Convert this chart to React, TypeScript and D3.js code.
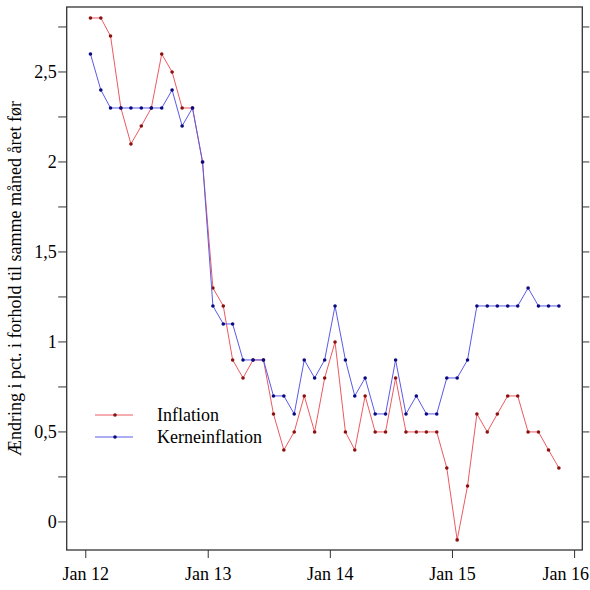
import React, { useEffect, useRef } from 'react';
import * as d3 from 'd3';

// monthly figures, Jan 2012 - Nov 2015
const inflation = [
  2.8, 2.8, 2.7, 2.3, 2.1, 2.2, 2.3, 2.6, 2.5, 2.3, 2.3, 2.0,
  1.3, 1.2, 0.9, 0.8, 0.9, 0.9, 0.6, 0.4, 0.5, 0.7, 0.5, 0.8,
  1.0, 0.5, 0.4, 0.7, 0.5, 0.5, 0.8, 0.5, 0.5, 0.5, 0.5, 0.3,
  -0.1, 0.2, 0.6, 0.5, 0.6, 0.7, 0.7, 0.5, 0.5, 0.4, 0.3,
];

const kerneinflation = [
  2.6, 2.4, 2.3, 2.3, 2.3, 2.3, 2.3, 2.3, 2.4, 2.2, 2.3, 2.0,
  1.2, 1.1, 1.1, 0.9, 0.9, 0.9, 0.7, 0.7, 0.6, 0.9, 0.8, 0.9,
  1.2, 0.9, 0.7, 0.8, 0.6, 0.6, 0.9, 0.6, 0.7, 0.6, 0.6, 0.8,
  0.8, 0.9, 1.2, 1.2, 1.2, 1.2, 1.2, 1.3, 1.2, 1.2, 1.2,
];

const months = inflation.map((_, i) => new Date(2012, i, 15));

const yTicks = [0, 0.25, 0.5, 0.75, 1, 1.25, 1.5, 1.75, 2, 2.25, 2.5, 2.75];
const yLabelTicks = [0, 0.5, 1, 1.5, 2, 2.5];
const xTicks = [2012, 2013, 2014, 2015, 2016].map((y) => new Date(y, 0, 1));

const series = [
  { name: 'Inflation', values: inflation, line: '#ec5a62', dot: '#8b1010' },
  { name: 'Kerneinflation', values: kerneinflation, line: '#5a5ae8', dot: '#0a0a80' },
];

export default function App() {
  const svgRef = useRef<SVGSVGElement>(null);

  useEffect(() => {
    if (!svgRef.current) return;
    const width = 590;
    const height = 590;
    const plot = { left: 66.7, right: 582.3, top: 7, bottom: 550 };
    const font = '"Liberation Serif", "Times New Roman", serif';

    const svg = d3.select(svgRef.current);
    svg.selectAll('*').remove();
    svg.attr('width', width).attr('height', height).attr('viewBox', [0, 0, width, height]);

    const x = d3.scaleTime()
      .domain([new Date(2011, 10, 5), new Date(2016, 0, 24)])
      .range([plot.left, plot.right]);

    const y = d3.scaleLinear()
      .domain([-0.156, 2.861])
      .range([plot.bottom, plot.top]);

    // frame
    svg.append('rect')
      .attr('x', plot.left)
      .attr('y', plot.top)
      .attr('width', plot.right - plot.left)
      .attr('height', plot.bottom - plot.top)
      .attr('fill', 'none')
      .attr('stroke', '#333')
      .attr('stroke-width', 1.3);

    // left ticks
    svg.selectAll('.ytick')
      .data(yTicks)
      .enter()
      .append('line')
      .attr('x1', plot.left - 8.5)
      .attr('x2', plot.left)
      .attr('y1', (d) => y(d))
      .attr('y2', (d) => y(d))
      .attr('stroke', '#333');

    // right ticks
    svg.selectAll('.ytickr')
      .data(yTicks)
      .enter()
      .append('line')
      .attr('x1', plot.right)
      .attr('x2', plot.right + 7)
      .attr('y1', (d) => y(d))
      .attr('y2', (d) => y(d))
      .attr('stroke', '#333');

    svg.selectAll('.ylabel')
      .data(yLabelTicks)
      .enter()
      .append('text')
      .attr('x', plot.left - 10)
      .attr('y', (d) => y(d))
      .attr('dy', '0.34em')
      .attr('text-anchor', 'end')
      .attr('font-family', font)
      .attr('font-size', 18)
      .text((d) => d3.format('~g')(d).replace('.', ','));

    // bottom ticks
    svg.selectAll('.xtick')
      .data(xTicks)
      .enter()
      .append('line')
      .attr('x1', (d) => x(d))
      .attr('x2', (d) => x(d))
      .attr('y1', plot.bottom)
      .attr('y2', plot.bottom + 8)
      .attr('stroke', '#333');

    svg.selectAll('.xlabel')
      .data(xTicks)
      .enter()
      .append('text')
      .attr('x', (d, i) => (i === xTicks.length - 1 ? 589 : x(d)))
      .attr('y', 580)
      .attr('text-anchor', (d, i) => (i === xTicks.length - 1 ? 'end' : 'middle'))
      .attr('font-family', font)
      .attr('font-size', 18)
      .text((d) => 'Jan ' + d3.timeFormat('%y')(d));

    // axis title
    svg.append('text')
      .attr('transform', `translate(21,${(plot.top + plot.bottom) / 2}) rotate(-90)`)
      .attr('text-anchor', 'middle')
      .attr('font-family', font)
      .attr('font-size', 18)
      .text('Ændring i pct. i forhold til samme måned året før');

    const line = d3.line<number>()
      .x((_, i) => x(months[i]))
      .y((d) => y(d));

    series.forEach((s) => {
      svg.append('path')
        .datum(s.values)
        .attr('fill', 'none')
        .attr('stroke', s.line)
        .attr('stroke-width', 1)
        .attr('d', line);

      svg.append('g')
        .selectAll('circle')
        .data(s.values)
        .enter()
        .append('circle')
        .attr('cx', (_, i) => x(months[i]))
        .attr('cy', (d) => y(d))
        .attr('r', 1.8)
        .attr('fill', s.dot);
    });

    // legend
    const legend = svg.append('g');
    series.forEach((s, i) => {
      const ly = 415 + i * 22;
      legend.append('line')
        .attr('x1', 95)
        .attr('x2', 133)
        .attr('y1', ly)
        .attr('y2', ly)
        .attr('stroke', s.line)
        .attr('stroke-width', 1);
      legend.append('circle')
        .attr('cx', 115)
        .attr('cy', ly)
        .attr('r', 1.8)
        .attr('fill', s.dot);
      legend.append('text')
        .attr('x', 157)
        .attr('y', ly)
        .attr('dy', '0.32em')
        .attr('font-family', font)
        .attr('font-size', 18)
        .text(s.name);
    });
  }, []);

  return (
    <div style={{ position: 'absolute', left: 0, top: 0 }}>
      <svg ref={svgRef} style={{ display: 'block' }} />
    </div>
  );
}
